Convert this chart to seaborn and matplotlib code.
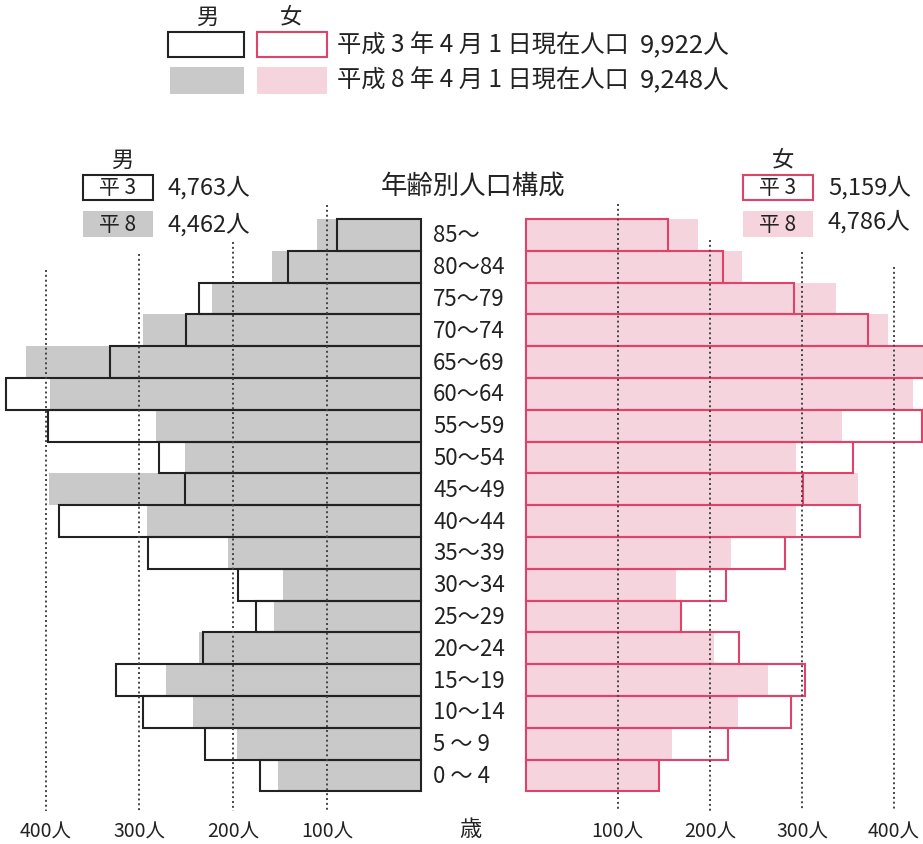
# Population pyramid: 平成3年 vs 平成8年 (年齢別人口構成)
import numpy as np
import pandas as pd
import matplotlib.pyplot as plt
import matplotlib.transforms as mtransforms
from matplotlib.patches import Rectangle
import seaborn as sns

sns.set_theme(style="white")
plt.rcParams['font.family'] = ['Noto Sans CJK JP', 'DejaVu Sans']

# data (people per age band)
ages = ["85～", "80～84", "75～79", "70～74", "65～69", "60～64", "55～59", "50～54",
        "45～49", "40～44", "35～39", "30～34", "25～29", "20～24", "15～19", "10～14",
        "5 ～ 9", "0 ～ 4"]
male_h3 = [89, 142, 237, 250, 331, 442, 398, 279, 251, 386, 291, 195, 176, 232, 325, 296, 230, 171]
male_h8 = [111, 159, 223, 296, 421, 395, 282, 251, 396, 292, 206, 147, 157, 236, 272, 243, 196, 152]
female_h3 = [155, 214, 291, 372, 450, 440, 430, 355, 301, 363, 281, 218, 169, 232, 303, 288, 220, 145]
female_h8 = [187, 235, 337, 393, 445, 421, 343, 294, 361, 293, 223, 163, 168, 204, 263, 231, 159, 144]
ticks = [100, 200, 300, 400]
tick_labels = ["100人", "200人", "300人", "400人"]

W, H = 923, 845
BLACK = "#222222"
GRAY = "#c9c9c9"
PINK = "#f6d4dd"
RED = "#e0436a"

fig = plt.figure(figsize=(W / 100, H / 100), dpi=100)
fig.patch.set_facecolor("white")


def fx(x):
    return x / W


def fy(y):
    return 1 - y / H


# vertical layout: rows from y=220 to y=792 px, axes from 200 to 812 px
row_top, row_bot = 220, 792.3
row_h = (row_bot - row_top) / len(ages)
ax_top, ax_bot = 200, 812
ylim_top = -0.5 - (row_top - ax_top) / row_h
ylim_bot = len(ages) - 0.5 + (ax_bot - row_bot) / row_h


def py2data(y):
    return -0.5 + (y - row_top) / row_h


axL = fig.add_axes([0, fy(ax_bot), fx(420.7), (ax_bot - ax_top) / H])
axR = fig.add_axes([fx(525.7), fy(ax_bot), fx(W - 525.7), (ax_bot - ax_top) / H])


def draw_side(ax, h3, h8, fill_color, edge_color):
    sns.barplot(x=h3, y=ages, orient="h", color="white", width=1, saturation=1,
                linewidth=0, ax=ax, zorder=1)
    sns.barplot(x=h8, y=ages, orient="h", color=fill_color, width=1, saturation=1,
                linewidth=0, ax=ax, zorder=2)
    sns.barplot(x=h3, y=ages, orient="h", color=edge_color, fill=False, width=1,
                saturation=1, linewidth=1.5, ax=ax, zorder=3)
    for p in ax.patches:
        p.set_clip_on(False)
    ax.set_ylim(ylim_bot, ylim_top)
    ax.set_yticks([])
    ax.set_xlabel("")
    ax.set_ylabel("")
    ax.set_xticks(ticks)
    ax.set_xticklabels(tick_labels)
    ax.tick_params(axis="x", length=0, pad=7, labelsize=14, labelcolor=BLACK)
    for s in ax.spines.values():
        s.set_visible(False)
    ax.set_facecolor("none")


draw_side(axL, male_h3, male_h8, GRAY, BLACK)
draw_side(axR, female_h3, female_h8, PINK, RED)
axL.set_xlim((420.7 - 0) / 0.9375, 0)
axR.set_xlim(0, (W - 525.7) / 0.921)

# dotted guide lines, their tops stagger like the original
axL.vlines(ticks, [py2data(y) for y in (206, 243, 255, 271)], ylim_bot,
           colors="#444444", linestyles=(0, (1, 1.5)), linewidth=1.4, zorder=5)
axR.vlines(ticks, [py2data(y) for y in (205, 241, 253, 268)], ylim_bot,
           colors="#444444", linestyles=(0, (1, 1.5)), linewidth=1.4, zorder=5)

# age labels between the two halves
tr = mtransforms.blended_transform_factory(fig.transFigure, axL.transData)
for i, a in enumerate(ages):
    axL.text(fx(433), i, a, transform=tr, ha="left", va="center",
             fontsize=16, color=BLACK, clip_on=False)
fig.text(fx(470), fy(830), "歳", ha="center", va="center", fontsize=16, color=BLACK)

# title
fig.text(fx(473), fy(186), "年齢別人口構成", ha="center", va="center", fontsize=19, color=BLACK)


def box(x0, y0, x1, y1, face, edge):
    r = Rectangle((fx(x0), fy(y1)), fx(x1 - x0), (y1 - y0) / H, transform=fig.transFigure,
                  facecolor=face, edgecolor=edge, linewidth=1.5 if edge != "none" else 0)
    fig.add_artist(r)


# top legend
fig.text(fx(207), fy(17), "男", ha="center", va="center", fontsize=16, color=BLACK)
fig.text(fx(291), fy(17), "女", ha="center", va="center", fontsize=16, color=BLACK)
box(168, 33, 244, 58, "white", BLACK)
box(257, 33, 327, 58, "white", RED)
box(170, 68, 244, 95, GRAY, "none")
box(257, 68, 327, 95, PINK, "none")
fig.text(fx(337), fy(46), "平成 3 年 4 月 1 日現在人口", ha="left", va="center",
         fontsize=17.5, color=BLACK)
fig.text(fx(640), fy(46), "9,922人", ha="left", va="center", fontsize=18.5, color=BLACK)
fig.text(fx(337), fy(81), "平成 8 年 4 月 1 日現在人口", ha="left", va="center",
         fontsize=17.5, color=BLACK)
fig.text(fx(640), fy(81), "9,248人", ha="left", va="center", fontsize=18.5, color=BLACK)

# small legend, male side
fig.text(fx(122), fy(160), "男", ha="center", va="center", fontsize=16, color=BLACK)
box(83, 176, 153, 201, "white", BLACK)
fig.text(fx(118), fy(188), "平 3", ha="center", va="center", fontsize=15, color=BLACK)
fig.text(fx(167), fy(188), "4,763人", ha="left", va="center", fontsize=17, color=BLACK)
box(83, 212, 153, 238, GRAY, "none")
fig.text(fx(118), fy(225), "平 8", ha="center", va="center", fontsize=15, color=BLACK)
fig.text(fx(167), fy(225), "4,462人", ha="left", va="center", fontsize=17, color=BLACK)

# small legend, female side
fig.text(fx(783), fy(160), "女", ha="center", va="center", fontsize=16, color=BLACK)
box(743, 176, 813, 201, "white", RED)
fig.text(fx(778), fy(188), "平 3", ha="center", va="center", fontsize=15, color=BLACK)
fig.text(fx(828), fy(188), "5,159人", ha="left", va="center", fontsize=17, color=BLACK)
box(743, 212, 813, 238, PINK, "none")
fig.text(fx(778), fy(225), "平 8", ha="center", va="center", fontsize=15, color=BLACK)
fig.text(fx(828), fy(222), "4,786人", ha="left", va="center", fontsize=17, color=BLACK)

fig.savefig("out.png", dpi=100, facecolor="white")
